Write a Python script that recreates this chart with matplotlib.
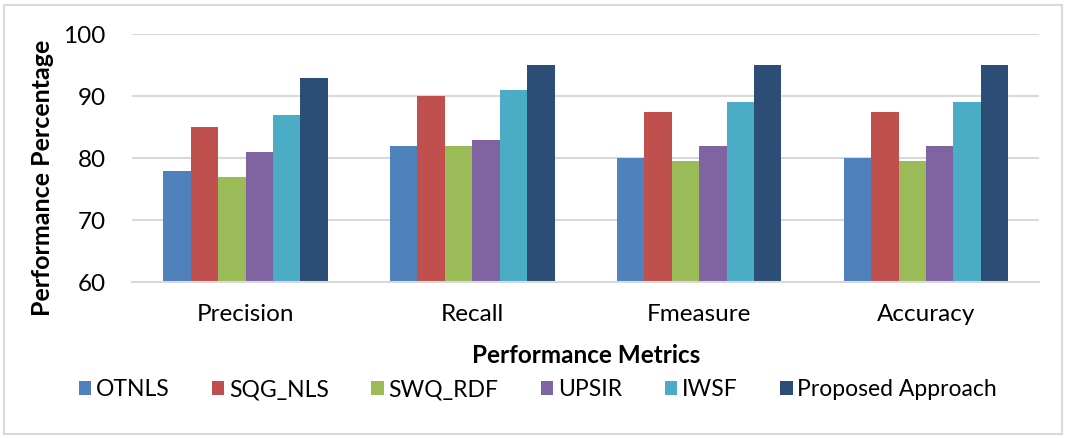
import matplotlib.pyplot as plt
import numpy as np
from matplotlib.patches import Rectangle

# dados
metrics = ["Precision", "Recall", "Fmeasure", "Accuracy"]
series_names = ["OTNLS", "SQG_NLS", "SWQ_RDF", "UPSIR", "IWSF", "Proposed Approach"]
otnls = [78, 82, 80, 80]
sqg_nls = [85, 90, 87.4, 87.5]
swq_rdf = [77, 82, 79.5, 79.5]
upsir = [81, 83, 82, 82]
iwsf = [87, 91, 89, 89]
proposed = [93, 95, 95, 95]

colors = ["#4F81BD", "#C0504D", "#9BBB59", "#8064A2", "#4BACC6", "#2C4D75"]

plt.rcParams["font.family"] = ["Lato", "DejaVu Sans"]

fig = plt.figure(figsize=(10.66, 4.38), dpi=100)
ax = fig.add_axes([0.124, 0.356, 0.851, 0.566])

all_series = [otnls, sqg_nls, swq_rdf, upsir, iwsf, proposed]
x = np.arange(len(metrics))
bar_w = 0.121
for i, (name, vals) in enumerate(zip(series_names, all_series)):
    offset = (i - 2.5) * bar_w
    ax.bar(x + offset, vals, width=bar_w, color=colors[i], label=name, zorder=2)

ax.set_ylim(60, 100)
ax.set_xlim(-0.5, len(metrics) - 0.5)
ax.set_yticks([60, 70, 80, 90, 100])
ax.set_xticks(x)
ax.set_xticklabels(metrics, fontsize=17.5)
ax.tick_params(axis="y", labelsize=17.5, length=0, pad=19)
ax.tick_params(axis="x", length=0, pad=16)
ax.grid(axis="y", color="#D9D9D9", linewidth=1.5, zorder=0)
for s in ["top", "right", "left"]:
    ax.spines[s].set_visible(False)
ax.spines["bottom"].set_color("#D9D9D9")
ax.spines["bottom"].set_linewidth(1.5)

ax.set_xlabel("Performance Metrics", fontsize=17.5, fontweight="bold")
ax.xaxis.label.set_va("center")
ax.xaxis.set_label_coords(0.5, -0.295)
ax.set_ylabel("Performance Percentage", fontsize=18, fontweight="bold")
ax.yaxis.label.set_va("center")
ax.yaxis.set_label_coords(-0.099, 0.42)

ax.legend(loc="center", bbox_to_anchor=(0.447, -0.435), ncol=6, frameon=False,
          fontsize=16.5, handlelength=0.55, handleheight=0.55, handletextpad=0.2,
          columnspacing=1.85)

# moldura à volta da figura
fig.patches.append(Rectangle((0.004, 0.008), 0.992, 0.98, transform=fig.transFigure,
                             fill=False, edgecolor="#D9D9D9", linewidth=1.5))

fig.savefig("out.png", dpi=100)
plt.close(fig)
